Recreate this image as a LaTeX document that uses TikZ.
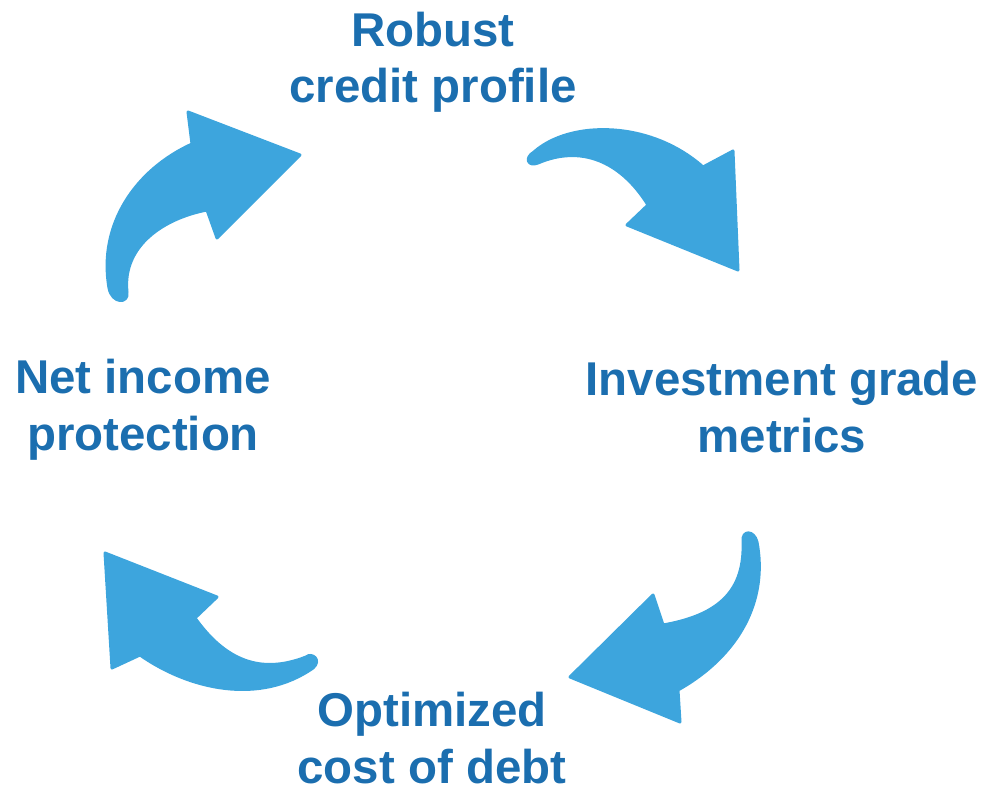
\documentclass[tikz,border=0pt]{standalone}
\usepackage{fontspec}
\setmainfont{Liberation Sans}
\definecolor{arrowblue}{HTML}{3DA5DD}
\definecolor{textblue}{HTML}{1B6EAF}
\begin{document}
\begin{tikzpicture}[x=0.02cm,y=-0.02cm,
  label/.style={font=\bfseries\fontsize{27}{31.9}\selectfont, text=textblue,
    align=center, inner sep=0pt, anchor=base},
  curvearrow/.style={fill=arrowblue, draw=arrowblue, line width=0.06cm, line join=round}]
\useasboundingbox (0,0) rectangle (986,793);

% stage labels (anchored at the baseline of their last line)
\node[label] (robust) at (433,103) {Robust\\credit profile};
\node[label] (invest) at (782,452) {Investment grade\\metrics};
\node[label] (debt) at (432,783) {Optimized\\cost of debt};
\node[label] (income) at (143,450) {Net income\\protection};

% curved block arrows of the cycle
\path[curvearrow] (109,288) .. controls (98,225) and (135,170) .. (192,144)
  -- (188,112) -- (300,155) -- (217,238) -- (207,210)
  .. controls (165,218) and (122,245) .. (127,292)
  .. controls (129,304) and (112,304) .. cycle;

\path[curvearrow] (534,152) .. controls (570,120) and (650,120) .. (703,167)
  -- (733,151) -- (738,270) -- (627,225) -- (648,205)
  .. controls (620,160) and (580,145) .. (538,163)
  .. controls (528,167) and (524,158) .. cycle;

\path[curvearrow] (743,541) .. controls (745,590) and (720,615) .. (663,625)
  -- (653,595) -- (570,677) -- (680,722) -- (678,690)
  .. controls (740,655) and (768,600) .. (757,542)
  .. controls (754,530) and (742,530) .. cycle;

\path[curvearrow] (306,657) .. controls (260,675) and (225,660) .. (195,618)
  -- (217,597) -- (105,553) -- (112,668) -- (140,655)
  .. controls (190,690) and (260,705) .. (313,668)
  .. controls (322,660) and (312,652) .. cycle;
\end{tikzpicture}
\end{document}
